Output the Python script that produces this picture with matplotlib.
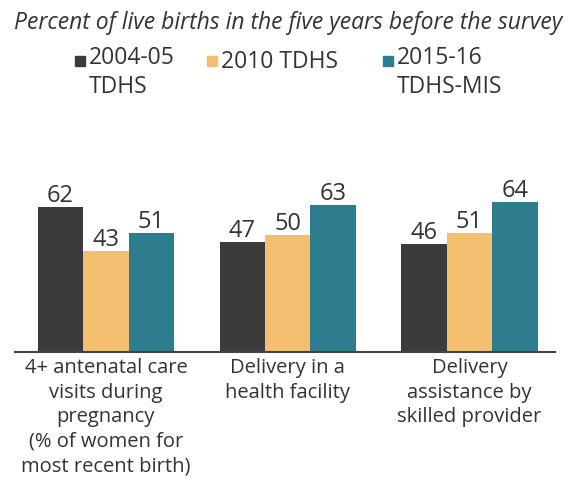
import matplotlib.pyplot as plt
from matplotlib.patches import Rectangle
import numpy as np

plt.rcParams['font.family'] = ['Open Sans', 'DejaVu Sans']

categories = ["4+ antenatal care\nvisits during\npregnancy\n(% of women for\nmost recent birth)",
              "Delivery in a\nhealth facility",
              "Delivery\nassistance by\nskilled provider"]
series_names = ["2004-05\nTDHS", "2010 TDHS", "2015-16\nTDHS-MIS"]
tdhs_2004 = [62, 47, 46]
tdhs_2010 = [43, 50, 51]
tdhs_2015 = [51, 63, 64]
colors = ["#3b3b3b", "#f5bf72", "#2e7d8f"]
txt = "#333333"

W, H = 577, 479
fig = plt.figure(figsize=(W / 100, H / 100), dpi=100)
ax = fig.add_axes([15/W, 127/H, 540/W, 200/H])

x = np.arange(len(categories))
w = 0.25
for i, (vals, col) in enumerate(zip([tdhs_2004, tdhs_2010, tdhs_2015], colors)):
    ax.bar(x + (i - 1) * w, vals, width=w, color=col)
    for xi, v in zip(x + (i - 1) * w, vals):
        ax.text(xi, v + 2.1, f"{v}", ha="center", va="baseline", fontsize=17, color=txt)

ax.set_xlim(-0.5, 2.47)
ax.set_ylim(0, 200/2.34)
ax.set_xticks(x)
ax.set_xticklabels(categories, fontsize=14.5, color=txt, linespacing=1.3)
ax.tick_params(axis="x", length=0, pad=4.5)
ax.set_yticks([])
for s in ["top", "right", "left"]:
    ax.spines[s].set_visible(False)
ax.spines["bottom"].set_color("#444444")
ax.spines["bottom"].set_linewidth(1.5)

fig.text(0.5, 1 - 29/H, "Percent of live births in the five years before the survey",
         ha="center", va="baseline", fontsize=16.5, style="italic", color=txt)

# legend: square aligned with first text line
leg_sq_x = [80, 212, 388]
for name, col, sx in zip(series_names, colors, leg_sq_x):
    fig.add_artist(Rectangle(((sx - 5) / W, 1 - 66 / H), 10 / W, 10 / H,
                             transform=fig.transFigure, color=col))
    last_base = 68 + 25 * name.count("\n")
    fig.text((sx + 9) / W, 1 - last_base / H, name, ha="left", va="baseline",
             fontsize=16.5, color=txt, linespacing=1.25)

fig.savefig("out.png", dpi=100)
